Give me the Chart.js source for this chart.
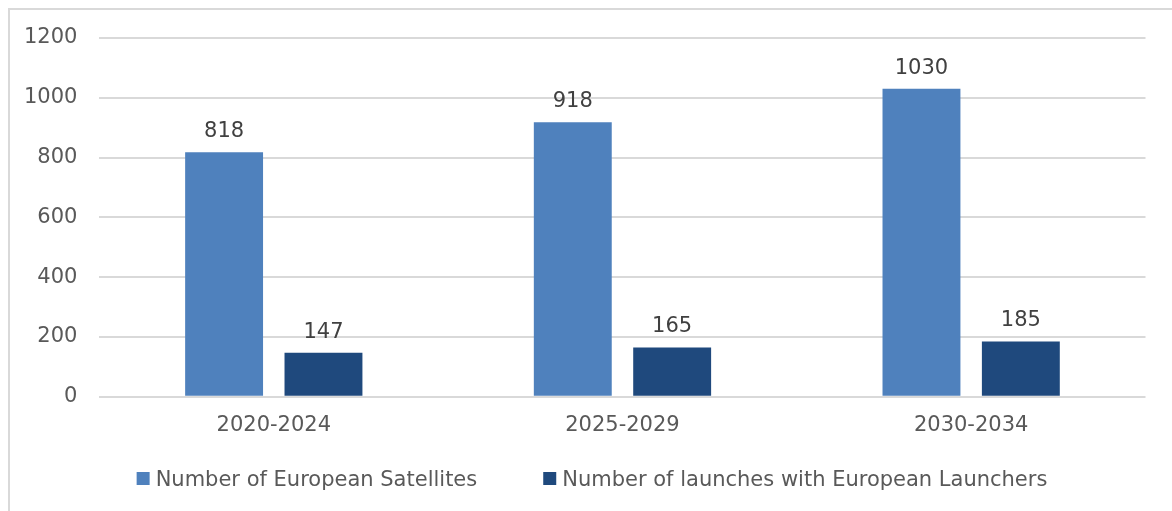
<!DOCTYPE html>
<html>
<head>
<meta charset="utf-8">
<script src="https://cdn.jsdelivr.net/npm/chart.js@4.4.0/dist/chart.umd.min.js"></script>
<style>
  html, body { margin: 0; padding: 0; background: #ffffff; }
  #wrap { width: 1172px; height: 511px; position: relative; }
</style>
</head>
<body>
<div id="wrap"><canvas id="c" width="1172" height="511"></canvas></div>
<script>
const categories = ['2020-2024', '2025-2029', '2030-2034'];
const seriesNames = ['Number of European Satellites', 'Number of launches with European Launchers'];
const satellites = [818, 918, 1030];
const launches = [147, 165, 185];
const yTicks = [0, 200, 400, 600, 800, 1000, 1200];

const FONT = 'DejaVu Sans';
const FS = 21;

const frame = {
  id: 'frame',
  beforeDraw(chart) {
    const ctx = chart.ctx;
    ctx.save();
    ctx.fillStyle = '#ffffff';
    ctx.fillRect(0, 0, chart.width, chart.height);
    ctx.strokeStyle = '#d9d9d9';
    ctx.lineWidth = 2;
    ctx.beginPath();
    ctx.moveTo(9, chart.height);
    ctx.lineTo(9, 9);
    ctx.lineTo(chart.width, 9);
    ctx.stroke();
    ctx.restore();
  }
};

const valueLabels = {
  id: 'valueLabels',
  afterDatasetsDraw(chart) {
    const ctx = chart.ctx;
    ctx.save();
    ctx.font = FS + 'px "' + FONT + '"';
    ctx.fillStyle = '#404040';
    ctx.textAlign = 'center';
    ctx.textBaseline = 'alphabetic';
    chart.data.datasets.forEach((ds, di) => {
      const meta = chart.getDatasetMeta(di);
      meta.data.forEach((bar, i) => {
        ctx.fillText(String(ds.data[i]), bar.x, bar.y - 15);
      });
    });
    ctx.restore();
  }
};

const customLegend = {
  id: 'customLegend',
  afterDraw(chart) {
    const ctx = chart.ctx;
    ctx.save();
    ctx.font = FS + 'px "' + FONT + '"';
    const box = 13, gapText = 6, gapItem = 66;
    const items = chart.data.datasets.map(ds => ({ text: ds.label, color: ds.backgroundColor, w: ctx.measureText(ds.label).width }));
    let total = 0;
    items.forEach((it, i) => { total += box + gapText + it.w + (i < items.length - 1 ? gapItem : 0); });
    let x = chart.width / 2 + 6 - total / 2;
    const yc = 478.5;
    items.forEach(it => {
      ctx.fillStyle = it.color;
      ctx.fillRect(x, yc - box / 2, box, box);
      x += box + gapText;
      ctx.fillStyle = '#595959';
      ctx.textAlign = 'left';
      ctx.textBaseline = 'alphabetic';
      ctx.fillText(it.text, x, yc + 7.5);
      x += it.w + gapItem;
    });
    ctx.restore();
  }
};

new Chart(document.getElementById('c'), {
  type: 'bar',
  data: {
    labels: categories,
    datasets: [
      { label: seriesNames[0], data: satellites, backgroundColor: '#4f81bd', borderWidth: 0, categoryPercentage: 0.57, barPercentage: 0.784 },
      { label: seriesNames[1], data: launches, backgroundColor: '#1f497d', borderWidth: 0, categoryPercentage: 0.57, barPercentage: 0.784 }
    ]
  },
  options: {
    responsive: false,
    animation: false,
    events: [],
    layout: { padding: { left: 2, right: 26.5, top: 38, bottom: 57 } },
    plugins: {
      legend: { display: false },
      tooltip: { enabled: false }
    },
    scales: {
      x: {
        grid: { display: false, drawTicks: false },
        border: { display: false },
        ticks: { color: '#595959', font: { family: FONT, size: FS }, padding: 16, maxRotation: 0 }
      },
      y: {
        min: 0,
        max: 1200,
        afterBuildTicks(axis) { axis.ticks = yTicks.map(v => ({ value: v })); },
        grid: { color: '#d9d9d9', lineWidth: 2, drawTicks: false },
        border: { display: false },
        ticks: { color: '#595959', font: { family: FONT, size: FS }, padding: 22, callback: v => String(v) }
      }
    }
  },
  plugins: [frame, valueLabels, customLegend]
});
</script>
</body>
</html>
